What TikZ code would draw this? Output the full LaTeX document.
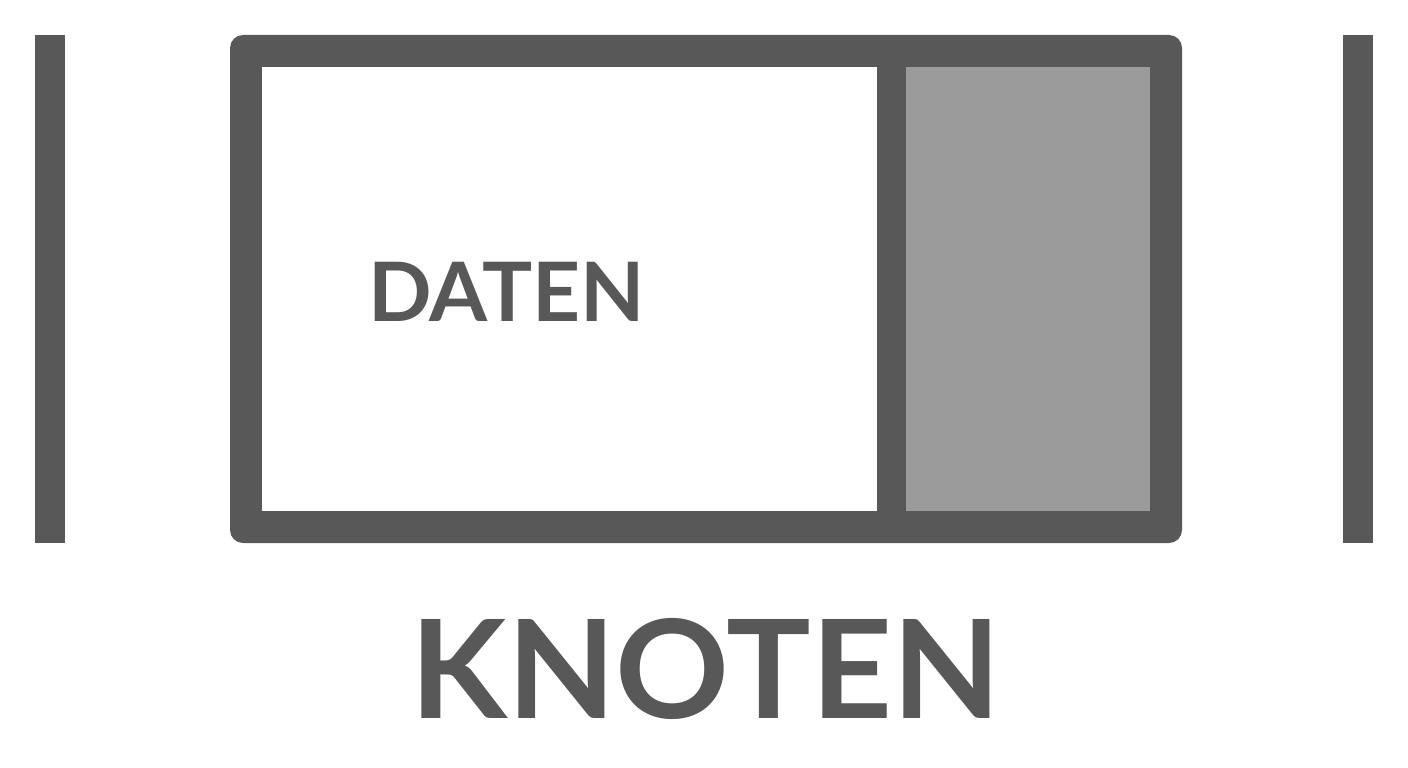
\documentclass[tikz,border=0pt]{standalone}
\usepackage{fontspec}
\setmainfont{Lato}
\definecolor{dark}{HTML}{585858}
\definecolor{midgray}{HTML}{9B9B9B}
\begin{document}
\begin{tikzpicture}[x=1pt,y=-1pt,
  bar/.style={fill=dark},
  lbl/.style={text=dark,inner sep=0pt,anchor=base,font=\bfseries}]
\useasboundingbox[fill=white] (0,0) rectangle (1408,768);
% side bars
\fill[bar] (35,35) rectangle (65,543);
\fill[bar] (1343,35) rectangle (1373,543);
% frame
\fill[dark,rounded corners=13pt] (230,35) rectangle (1182,543);
\fill[white] (262,67) rectangle (877,511);
\fill[midgray] (906,67) rectangle (1150,511);
% labels
\node[lbl,xscale=1.02,font=\bfseries\fontsize{82}{90}\selectfont] (daten) at (506.5,321) {DATEN};
\node[lbl,xscale=1.03,font=\bfseries\fontsize{137}{150}\selectfont] (knoten) at (705.5,718) {KNOTEN};
\end{tikzpicture}
\end{document}
